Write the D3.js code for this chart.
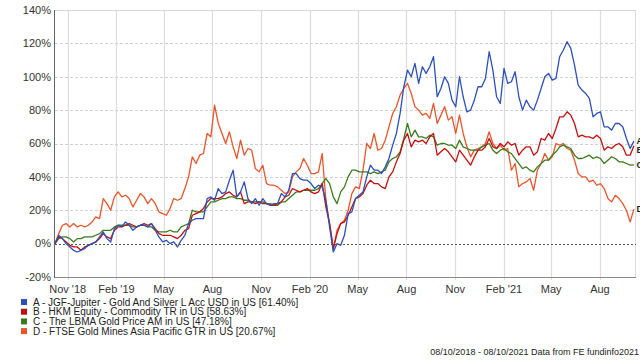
<!DOCTYPE html>
<html><head><meta charset="utf-8">
<script src="https://cdn.jsdelivr.net/npm/d3@7/dist/d3.min.js"></script>
<style>
html,body{margin:0;padding:0;background:#fff;}
svg{display:block;font-family:"Liberation Sans",Arial,sans-serif;}
</style></head>
<body>
<svg id="chart" width="640" height="360"></svg>
<script>
// ---- data (weekly samples starting 08/10/2018) ----
const startDate = "2018-10-08";
const endDate = "2021-10-08";
const seriesNames = [
  "A - JGF-Jupiter - Gold And Silver L Acc USD in US [61.40%]",
  "B - HKM Equity - Commodity TR in US [58.63%]",
  "C - The LBMA Gold Price AM in US [47.18%]",
  "D - FTSE Gold Mines Asia Pacific GTR in US [20.67%]"
];
const seriesKeys = ["A","B","C","D"];
const seriesColors = ["#2b50bb","#c30f0f","#3b7b1c","#e9552b"];
const seriesA = [0,5,3,0,-2,-4,-5,-4,-3,-1, 0,1,4,7,3,1,9,11,10,13, 11,8,10,11,11,10,12,8,4,1,
  2,0,1,-2,2,5,12,14,15,15, 15,27,28,26,33,30,31,38,44,28, 31,37,27,24,27,23,27,24,23,24,
  24,30,28,32,42,42,39,38,38,36, 33,35,34,26,10,-5,0,-1,5,18, 19,27,29,31,40,47,44,44,42,46,
  51,59,66,78,94,104,100,108,96,106, 102,106,112,88,93,100,96,86,82,100, 88,79,80,86,94,94,99,115,104,88,
  84,105,96,97,103,88,80,86,82,80, 86,93,100,102,98,99,112,116,121,117, 107,95,92,90,87,76,78,79,70,70,
  68,72,72,70,63,57,61.4];
const seriesB = [0,4,3,1,-1,-2,-2,-4,-2,-1, 0,1,3,6,4,3,8,10,10,11, 12,11,10,11,12,11,12,9,6,5,
  5,5,4,3,5,8,9,17,18,19, 21,25,27,27,27,28,30,31,29,28, 31,24,25,25,24,25,24,24,23,23,
  24,25,28,29,33,32,31,32,33,31, 30,31,36,22,12,-3,6,12,13,17, 22,27,28,30,35,38,36,36,34,33,
  40,43,49,54,62,66,58,62,61,62, 60,64,66,53,55,57,55,52,49,56, 53,50,47,52,56,56,58,63,58,57,
  60,58,61,59,60,53,56,58,58,53, 55,63,62,66,63,69,76,76,79,77, 72,64,65,64,64,63,65,63,56,58,
  57,59,60,58,53,53,58.63];
const seriesC = [0,3,4,4,3,1,3,3,4,4, 4,5,6,8,8,8,10,11,11,11, 11,10,10,11,11,10,10,8,7,7,
  7,8,7,7,10,11,12,20,19,19, 19,22,25,25,26,27,27,28,28,27, 27,26,26,25,25,25,25,24,24,23,
  23,25,25,27,29,31,31,32,32,32, 32,33,36,39,36,28,24,31,34,40, 44,44,43,43,43,42,43,42,43,44,
  49,51,52,55,63,72,64,68,64,64, 63,65,64,59,60,60,59,59,57,62, 58,57,56,56,56,58,59,60,56,54,
  56,57,55,54,51,48,45,46,44,43, 46,48,50,50,53,55,58,59,58,57, 53,51,51,52,53,51,52,51,48,50,
  52,51,49,49,48,47,47.18];
const seriesD = [0,6,11,12,10,12,10,11,10,11, 13,16,15,27,24,20,28,31,28,29, 27,22,26,30,28,24,27,24,19,18,
  17,21,27,26,27,33,40,52,48,53, 54,66,64,83,72,66,60,67,58,51, 62,53,57,56,45,43,47,36,35,35,
  34,32,30,31,40,43,45,51,47,42, 42,43,54,26,12,-3,8,12,14,20, 30,34,33,44,60,57,66,56,57,62,
  70,78,82,89,93,96,90,82,80,77, 78,75,84,72,77,82,74,76,66,77, 66,58,52,56,57,58,60,67,60,57,
  59,56,57,44,48,34,36,37,39,32, 44,48,54,50,52,60,59,60,57,56, 50,42,40,40,37,38,35,36,33,27,
  25,29,27,24,20,13,20.67];
const yTicks = [-20,0,20,40,60,80,100,120,140];
const xTickDates = ["2018-11-01","2019-02-01","2019-05-01","2019-08-01","2019-11-01","2020-02-01",
  "2020-05-01","2020-08-01","2020-11-01","2021-02-01","2021-05-01","2021-08-01"];
const xTickLabels = ["Nov '18","Feb '19","May","Aug","Nov","Feb '20","May","Aug","Nov","Feb '21","May","Aug"];
const footerText = "08/10/2018 - 08/10/2021 Data from FE fundinfo2021";

// ---- drawing ----
const svg = d3.select("#chart");
const parse = d3.utcParse("%Y-%m-%d");
const t0 = parse(startDate), t1 = parse(endDate);
const x = d3.scaleUtc().domain([t0, t1]).range([55, 636]);
const y = d3.scaleLinear().domain([-20, 140]).range([277, 10]);
const allSeries = [seriesA, seriesB, seriesC, seriesD];
const dates = seriesA.map((_, i) => d3.utcDay.offset(t0, 7 * i));

// vertical gridlines
svg.append("g").selectAll("line").data(xTickDates).join("line")
  .attr("x1", d => Math.round(x(parse(d))) + 0.5).attr("x2", d => Math.round(x(parse(d))) + 0.5)
  .attr("y1", 10).attr("y2", 280)
  .attr("stroke", "#dcdcdc").attr("stroke-width", 1.2);

// horizontal gridlines
svg.append("g").selectAll("line").data(yTicks.filter(v => v !== 0 && v !== -20)).join("line")
  .attr("x1", 55).attr("x2", 636)
  .attr("y1", d => Math.round(y(d)) + 0.5).attr("y2", d => Math.round(y(d)) + 0.5)
  .attr("stroke", d => d === 140 ? "#d6d6d6" : "#d0d0d0")
  .attr("stroke-dasharray", d => d === 140 ? null : "3,2");

// right border
svg.append("line").attr("x1", 635.5).attr("x2", 635.5).attr("y1", 10).attr("y2", 277)
  .attr("stroke", "#dcdcdc");

// bottom axis line
svg.append("line").attr("x1", 54).attr("x2", 636).attr("y1", 277.5).attr("y2", 277.5)
  .attr("stroke", "#8a8a8a");

// left axis line
svg.append("line").attr("x1", 54.5).attr("x2", 54.5).attr("y1", 10).attr("y2", 278)
  .attr("stroke", "#666").attr("stroke-width", 1);

// y labels
svg.append("g").selectAll("text").data(yTicks).join("text")
  .attr("x", 51).attr("y", d => y(d)).attr("dy", "0.35em")
  .attr("text-anchor", "end").attr("font-size", 11).attr("fill", "#333")
  .text(d => d + "%");

// x labels
svg.append("g").selectAll("text").data(xTickDates).join("text")
  .attr("x", (d) => x(parse(d))).attr("y", 293)
  .attr("text-anchor", "middle").attr("font-size", 11).attr("fill", "#333")
  .text((d, i) => xTickLabels[i]);

// lines (D first so A is on top)
const line = d3.line().x((d, i) => x(dates[i])).y(d => y(d));
[3, 2, 1, 0].forEach(k => {
  svg.append("path").datum(allSeries[k])
    .attr("fill", "none").attr("stroke", seriesColors[k])
    .attr("stroke-width", 1.3).attr("stroke-linejoin", "round")
    .attr("d", line);
});

// zero line
svg.append("line").attr("x1", 55).attr("x2", 636)
  .attr("y1", Math.round(y(0)) + 0.5).attr("y2", Math.round(y(0)) + 0.5)
  .attr("stroke", "#555").attr("stroke-dasharray", "2,2");

// end labels
let lastY = -100;
const endOrder = [0, 1, 2, 3].sort((a, b) => y(allSeries[a][allSeries[a].length - 1]) - y(allSeries[b][allSeries[b].length - 1]));
endOrder.forEach(k => {
  let yy = y(allSeries[k][allSeries[k].length - 1]);
  if (yy < lastY + 9) yy = lastY + 9;
  lastY = yy;
  svg.append("text").attr("x", 636.5).attr("y", yy).attr("dy", "0.35em")
    .attr("font-size", 9).attr("font-weight", "bold").attr("fill", "#222")
    .text(seriesKeys[k]);
});

// legend
const lg = svg.append("g");
seriesNames.forEach((name, i) => {
  const cy = 302 + i * 9.7;
  lg.append("rect").attr("x", 21).attr("y", cy - 3).attr("width", 6).attr("height", 6)
    .attr("fill", seriesColors[i]);
  lg.append("text").attr("x", 33).attr("y", cy).attr("dy", "0.35em")
    .attr("font-size", 10).attr("fill", "#222").text(name);
});

// footer
svg.append("text").attr("x", 639).attr("y", 355).attr("text-anchor", "end")
  .attr("font-size", 9).attr("fill", "#222").text(footerText);
</script>
</body></html>
